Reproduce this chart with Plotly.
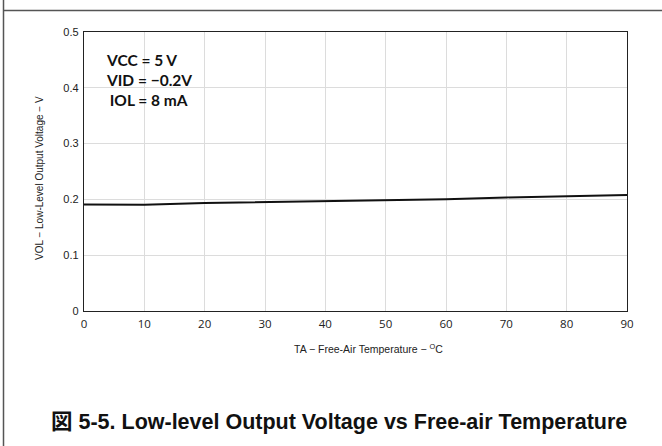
import plotly.graph_objects as go

temps = [0, 10, 20, 30, 40, 50, 60, 70, 80, 90]
vol = [0.191, 0.1905, 0.1935, 0.195, 0.1962, 0.1984, 0.2002, 0.2035, 0.2056, 0.208]
x_ticks = [0, 10, 20, 30, 40, 50, 60, 70, 80, 90]
y_ticks = [0, 0.1, 0.2, 0.3, 0.4, 0.5]
y_tick_text = ["0", "0.1", "0.2", "0.3", "0.4", "0.5"]
cond_lines = ["VCC = 5 V", "VID = \u22120.2V", " IOL = 8 mA"]

W, H = 662, 446
L, R, T, B = 84, 627, 32, 311

def px(p):
    return (p - L) / (R - L)

def py(p):
    return (B - p) / (B - T)

fig = go.Figure()
fig.add_trace(go.Scatter(x=temps, y=vol, mode="lines",
                         line=dict(color="#111111", width=2), showlegend=False))

axis_common = dict(showline=True, linecolor="#222222", linewidth=1.3, mirror=True,
                   showgrid=True, gridcolor="#dcdcdc", gridwidth=1, zeroline=False,
                   ticks="")
fig.update_xaxes(range=[0, 90], tickvals=x_ticks, ticktext=[str(t) for t in x_ticks],
                 tickfont=dict(family="Open Sans", size=11.5, color="#222"),
                 ticklabelstandoff=2, **axis_common)
fig.update_yaxes(range=[0, 0.5], tickvals=y_ticks, ticktext=y_tick_text,
                 tickfont=dict(family="Liberation Sans", size=11, color="#222"),
                 ticklabelstandoff=2, **axis_common)

shapes = [
    dict(type="rect", xref="paper", yref="paper", x0=px(95), x1=px(292), y0=py(125), y1=py(42),
         fillcolor="white", line=dict(width=0), layer="between"),
    dict(type="line", xref="paper", yref="paper", x0=px(3.5), x1=px(3.5), y0=py(0), y1=py(446),
         line=dict(color="#555555", width=1.5)),
    dict(type="line", xref="paper", yref="paper", x0=px(3.5), x1=px(662), y0=py(10.5), y1=py(10.5),
         line=dict(color="#555555", width=1.5)),
]

annotations = []
for txt, yy in zip(cond_lines, [60, 79.5, 100]):
    annotations.append(dict(text=txt, xref="paper", yref="paper", x=px(104), y=py(yy),
                            xanchor="left", yanchor="middle", showarrow=False,
                            font=dict(family="Lato", size=15.5, color="#111", weight="bold")))
annotations.append(dict(text="VOL \u2212 Low-Level Output Voltage \u2212 V", xref="paper", yref="paper",
                        x=px(39), y=py(178), textangle=-90, showarrow=False,
                        xanchor="center", yanchor="middle",
                        font=dict(family="Liberation Sans", size=10, color="#222")))
annotations.append(dict(text="TA \u2212 Free-Air Temperature \u2212 <sup>O</sup>C", xref="paper", yref="paper",
                        x=px(368), y=py(348), showarrow=False,
                        xanchor="center", yanchor="middle",
                        font=dict(family="Liberation Sans", size=10.5, color="#222")))
annotations.append(dict(text="<b>\u56f3 5-5. Low-level Output Voltage vs Free-air Temperature</b>",
                        xref="paper", yref="paper", x=px(49), y=py(422), showarrow=False,
                        xanchor="left", yanchor="middle",
                        font=dict(family="Liberation Sans, Noto Sans CJK JP", size=21.5, color="#111")))

fig.update_layout(width=W, height=H, margin=dict(l=L, r=W - R, t=T, b=H - B),
                  paper_bgcolor="white", plot_bgcolor="white",
                  shapes=shapes, annotations=annotations, showlegend=False)

fig.write_html("out.html", config={"displayModeBar": False},
               post_script="document.body.style.margin='0';document.body.style.overflow='hidden';")
